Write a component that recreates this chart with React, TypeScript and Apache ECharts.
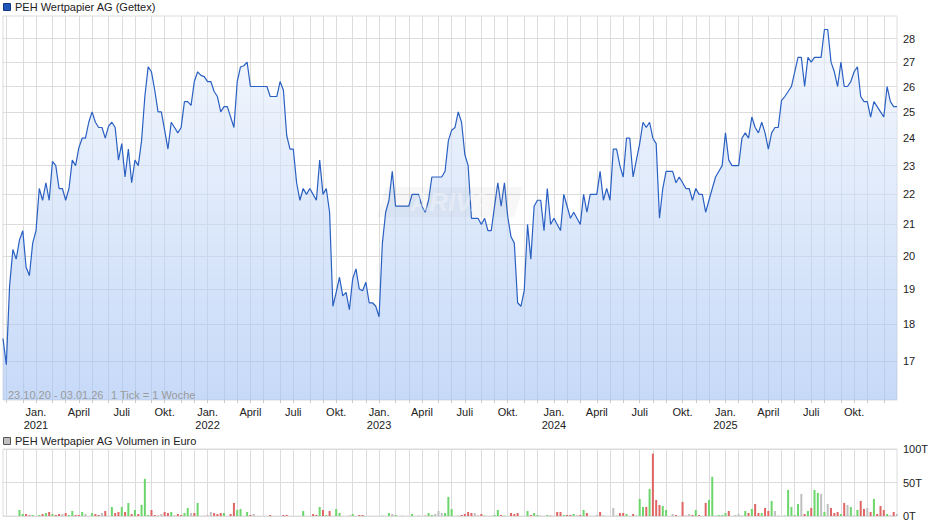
import React, { useEffect, useRef } from "react";
import * as echarts from "echarts";

// weekly data 23.10.20 - 03.01.26 (first point: Friday 23.10.2020)
const START_UTC = Date.UTC(2020, 9, 23);
const DAY = 86400000;
const WEEK = 7 * DAY;

const prices = [
  17.6, 16.9, 19.1, 20.2, 19.9, 20.5, 20.8, 19.65, 19.4, 20.4,
  20.8, 22.2, 21.8, 22.4, 21.8, 23.15, 23.0, 22.2, 22.2, 21.8,
  22.2, 23.2, 23.0, 23.65, 24.0, 24.0, 24.6, 25.0, 24.6, 24.4,
  24.4, 24.0, 24.45, 24.6, 24.4, 23.2, 23.8, 22.6, 23.6, 22.4,
  23.2, 23.0, 23.9, 25.6, 26.8, 26.6, 25.85, 25.0, 25.0, 24.3,
  23.6, 24.6, 24.4, 24.2, 24.4, 25.4, 25.4, 25.25, 26.2, 26.6,
  26.45, 26.4, 26.2, 26.2, 25.8, 25.6, 25.0, 25.2, 25.2, 24.8,
  24.4, 26.2, 26.8, 26.85, 27.0, 26.0, 26.0, 26.0, 26.0, 26.0,
  26.0, 25.6, 25.6, 25.6, 26.2, 25.85, 24.1, 23.6, 23.6, 22.4,
  21.8, 22.2, 22.0, 22.2, 22.0, 21.8, 23.2, 22.0, 22.2, 21.4,
  18.5, 18.9, 19.35, 18.8, 18.9, 18.4, 19.3, 19.6, 19.0, 18.95,
  19.2, 18.6, 18.6, 18.5, 18.2, 20.4, 21.4, 21.8, 22.8, 21.6,
  21.6, 21.6, 21.6, 21.6, 22.0, 22.0, 22.0, 21.6, 21.4, 21.8,
  22.6, 22.6, 22.6, 22.6, 22.8, 23.9, 24.3, 24.4, 25.0, 24.6,
  23.4, 23.0, 21.2, 21.2, 21.2, 21.0, 21.2, 20.8, 20.8, 21.6,
  22.4, 21.6, 22.4, 21.25, 20.6, 20.4, 18.6, 18.5, 18.95, 21.0,
  19.9, 21.6, 21.8, 21.8, 20.8, 22.2, 21.0, 21.2, 21.0, 20.8,
  22.0, 21.6, 21.2, 21.4, 21.2, 21.0, 22.0, 21.4, 22.0, 22.0,
  22.0, 22.8, 21.8, 22.2, 21.8, 23.6, 23.6, 23.0, 22.6, 24.0,
  24.0, 22.6, 23.2, 23.8, 24.6, 24.4, 24.6, 24.0, 23.8, 21.2,
  22.2, 22.8, 22.8, 22.8, 22.4, 22.6, 22.4, 22.2, 22.2, 21.8,
  22.2, 22.0, 22.0, 21.4, 21.8, 22.2, 22.6, 22.8, 23.0, 24.2,
  23.2, 23.0, 23.0, 23.0, 24.0, 24.2, 24.0, 24.8, 24.4, 24.2,
  24.6, 24.2, 23.6, 24.2, 24.4, 24.4, 25.45, 25.6, 25.8, 26.0,
  26.6, 27.2, 27.2, 26.0, 27.2, 27.0, 27.2, 27.2, 27.2, 28.4,
  28.4, 27.0, 26.6, 26.0, 27.0, 26.0, 26.0, 26.2, 26.6, 26.8,
  25.6, 25.4, 25.4, 24.8, 25.4, 25.2, 25.0, 24.8, 26.0, 25.4,
  25.2, 25.2,
];

// volume in thousand euro (T)
const volumes = [
  0, 0, 0, 0, 0, 9, 3, 3, 1, 1.5,
  0, 1.5, 3, 4.5, 6, 3, 1.5, 3, 3, 4.5,
  1.5, 7.5, 1.5, 1.5, 6, 3, 0, 4.5, 3, 1.5,
  4.5, 7.5, 0, 13.5, 4.5, 6, 13.5, 6, 19.5, 3,
  9, 3, 16.5, 55.5, 1.5, 9, 1.5, 0.5, 3, 6,
  4.5, 6, 0.5, 3, 1.5, 4.5, 12, 4.5, 4.5, 19.5,
  0, 0.5, 0.5, 6, 4.5, 3, 4.5, 4.5, 0, 3,
  19.5, 9, 10.5, 0, 6, 1.5, 3, 0, 0, 0,
  0, 1.5, 0, 0, 0, 1.5, 1.5, 0, 0, 0,
  0, 7.5, 0, 0, 3, 1.5, 13.5, 9, 1.5, 7.5,
  0, 10.5, 4.5, 0, 0, 0.5, 3, 0, 1.5, 1.5,
  0, 0, 0, 0, 0, 0.5, 0, 4.5, 3, 1.5,
  0, 0.5, 0, 0, 3, 0, 0.5, 0, 0.5, 4.5,
  1.5, 3, 7.5, 4.5, 4.5, 28.5, 10.5, 0, 0.5, 1.5,
  3, 6, 4.5, 4.5, 0.5, 3, 0.5, 0, 0, 1.5,
  9, 1.5, 0.5, 0, 4.5, 3, 4.5, 0, 0, 7.5,
  1.5, 4.5, 1.5, 0.5, 0, 1.5, 0.5, 0, 6, 6,
  1.5, 1.5, 1.5, 3, 0.5, 1.5, 9, 4.5, 0, 0,
  1.5, 6, 0.5, 0, 0, 12, 0.5, 4.5, 4.5, 3,
  0, 3, 0.5, 25.5, 13.5, 13.5, 40.5, 93, 24, 16.5,
  15, 9, 0, 3, 1.5, 0, 21, 0.5, 3, 1.5,
  9, 1.5, 0, 19.5, 24, 58.5, 0.5, 1.5, 1.5, 4.5,
  7.5, 0, 1.5, 3, 0.5, 7.5, 4.5, 10.5, 18, 4.5,
  4.5, 12, 7.5, 22.5, 7.5, 0.5, 0, 0.5, 39, 13.5,
  1.5, 18, 33, 3, 7.5, 12, 39, 34.5, 33, 6,
  18, 12, 4.5, 6, 3, 19.5, 16.5, 13.5, 0.5, 9,
  22.5, 10.5, 12, 6, 25.5, 3, 15, 9, 3, 0.5,
  6, 3,
];

// u = up (green), d = down (red), n = unchanged (grey)
const volumeDir = [
  "nnnnnuuddu", "nudududdnd", "uuddunnudd", "ndnuddudud",
  "uduuudddnd", "duddduundu", "nndndddund", "duunudnnnn",
  "ndnnnddnnn", "nunnddudud", "nuunndundd", "nnnnnununu",
  "nnnnunnndu", "unnnuuunud", "dddnddunnu", "udundddnnu",
  "duunnudndd", "uddudduddn", "nduunnuddu", "nduuududdd",
  "uunndnddnd", "udnduuuuuu", "dnnnuududd", "uddunnuuuu",
  "uunduduunu", "ndddudnuuu", "ddndudddud", "dn",
].join("").split("");

const priceTicks = [17, 18, 19, 20, 21, 22, 23, 24, 25, 26, 27, 28];
const volumeTicks = [0, 50, 100];
const monthNames = ["Jan.", "Feb.", "März", "April", "Mai", "Juni", "Juli", "Aug.", "Sep.", "Okt.", "Nov.", "Dez."];
const labelMonths = [0, 3, 6, 9];

const pad = (n: number) => (n < 10 ? "0" + n : "" + n);
const categories = prices.map((_, i) => {
  const d = new Date(START_UTC + i * WEEK);
  return `${pad(d.getUTCDate())}.${pad(d.getUTCMonth() + 1)}.${String(d.getUTCFullYear()).slice(2)}`;
});
// a week (Mon..Sun) starts a new month when its Sunday lies in another month than the previous week's Sunday
const weekEnd = (i: number) => new Date(START_UTC + i * WEEK + 2 * DAY);
const lastIndex = prices.length - 1;
const monthStart = prices.map((_, i) => {
  if (i === 0 || i === lastIndex) return false;
  const a = weekEnd(i), b = weekEnd(i - 1);
  return a.getUTCMonth() !== b.getUTCMonth();
});
const labelShow = prices.map((_, i) => monthStart[i] && labelMonths.indexOf(weekEnd(i).getUTCMonth()) >= 0);
const labelText = prices.map((_, i) => {
  if (!labelShow[i]) return "";
  const d = weekEnd(i);
  const m = d.getUTCMonth();
  return m === 0 ? `${monthNames[0]}\n${d.getUTCFullYear()}` : monthNames[m];
});

const FONT = '"Liberation Sans", Arial, Helvetica, sans-serif';
const GRID_COLOR = "#dcdcdc";
const UP = "#6cd66c";
const DOWN = "#e06666";
const FLAT = "#bfbfbf";

export default function App() {
  const ref = useRef<HTMLDivElement>(null);
  useEffect(() => {
    if (!ref.current) return;
    const chart = echarts.init(ref.current, undefined, { renderer: "svg" });
    const option: any = {
      animation: false,
      backgroundColor: "#ffffff",
      textStyle: { fontFamily: FONT },
      grid: [
        { left: 3, top: 16, width: 894, height: 384, show: true, borderColor: GRID_COLOR, borderWidth: 1, backgroundColor: "#fff" },
        { left: 3, top: 449, width: 894, height: 67, show: true, borderColor: GRID_COLOR, borderWidth: 1, backgroundColor: "#fff" },
      ],
      xAxis: [
        {
          type: "category",
          gridIndex: 0,
          data: categories,
          boundaryGap: false,
          axisLine: { show: false },
          axisTick: { show: true, interval: (i: number) => monthStart[i], length: 3, lineStyle: { color: "#cccccc" } },
          axisLabel: {
            interval: (i: number) => labelShow[i],
            formatter: (_v: string, i: number) => labelText[i],
            color: "#222",
            fontSize: 11,
            lineHeight: 13,
            margin: 5,
            fontFamily: FONT,
          },
          splitLine: { show: true, interval: (i: number) => monthStart[i], lineStyle: { color: GRID_COLOR, width: 1 } },
        },
        {
          type: "category",
          gridIndex: 1,
          data: categories,
          boundaryGap: false,
          axisLine: { show: false },
          axisTick: { show: false },
          axisLabel: { show: false },
          splitLine: { show: true, interval: (i: number) => monthStart[i], lineStyle: { color: GRID_COLOR, width: 1 } },
        },
      ],
      yAxis: [
        {
          type: "log",
          logBase: 10,
          gridIndex: 0,
          position: "right",
          min: 16,
          max: 29,
          axisLine: { show: false },
          axisTick: { show: false, customValues: priceTicks },
          axisLabel: { customValues: priceTicks, color: "#222", fontSize: 11, margin: 6, fontFamily: FONT, formatter: (v: number) => String(Math.round(v)) },
          splitLine: { show: true, lineStyle: { color: GRID_COLOR, width: 1 } },
        },
        {
          type: "value",
          gridIndex: 1,
          position: "right",
          min: volumeTicks[0],
          max: volumeTicks[2],
          interval: volumeTicks[1] - volumeTicks[0],
          axisLine: { show: false },
          axisTick: { show: false },
          axisLabel: { color: "#222", fontSize: 11, margin: 6, fontFamily: FONT, formatter: (v: number) => `${v}T` },
          splitLine: { show: true, lineStyle: { color: GRID_COLOR, width: 1 } },
        },
      ],
      series: [
        {
          type: "line",
          xAxisIndex: 0,
          yAxisIndex: 0,
          data: prices,
          symbol: "none",
          showSymbol: false,
          lineStyle: { color: "#2a60c2", width: 1.2 },
          areaStyle: {
            origin: "start",
            color: new echarts.graphic.LinearGradient(0, 16, 0, 400, [
              { offset: 0, color: "rgba(240,245,253,0.85)" },
              { offset: 1, color: "rgba(160,192,243,0.85)" },
            ], true),
          },
          z: 3,
        },
        {
          type: "bar",
          xAxisIndex: 1,
          yAxisIndex: 1,
          barWidth: 2,
          data: volumes.map((v, i) => ({
            value: v,
            itemStyle: { color: volumeDir[i] === "u" ? UP : volumeDir[i] === "d" ? DOWN : FLAT },
          })),
        },
      ],
      graphic: [
        { type: "polygon", shape: { points: [[386, 187], [523, 187], [514, 217], [377, 217]] }, style: { fill: "rgba(120,120,120,0.06)" }, z: 100, silent: true },
        { type: "text", x: 450, y: 202, style: { text: "ARIVA", font: `italic bold 26px ${FONT}`, fill: "rgba(255,255,255,0.35)", align: "center", verticalAlign: "middle" }, z: 101, silent: true },
        { type: "rect", shape: { x: 3.5, y: 3.5, width: 7, height: 7 }, style: { fill: "#1f56b8", stroke: "#103a86", lineWidth: 1 }, z: 100 },
        { type: "text", x: 15, y: 7, style: { text: "PEH Wertpapier AG (Gettex)", font: `11px ${FONT}`, fill: "#222", verticalAlign: "middle" }, z: 100 },
        { type: "rect", shape: { x: 3.5, y: 437.5, width: 7, height: 7 }, style: { fill: "#c0c0c0", stroke: "#555", lineWidth: 1 }, z: 100 },
        { type: "text", x: 15, y: 441, style: { text: "PEH Wertpapier AG Volumen in Euro", font: `11px ${FONT}`, fill: "#222", verticalAlign: "middle" }, z: 100 },
        { type: "text", x: 8, y: 395, style: { text: "23.10.20 - 03.01.26", font: `11px ${FONT}`, fill: "#9a9a9a", verticalAlign: "middle" }, z: 100 },
        { type: "text", x: 111, y: 395, style: { text: "1 Tick = 1 Woche", font: `11px ${FONT}`, fill: "#9a9a9a", verticalAlign: "middle" }, z: 100 },
      ],
    };
    chart.setOption(option);
    return () => chart.dispose();
  }, []);
  return <div ref={ref} style={{ position: "fixed", left: 0, top: 0, width: 940, height: 526 }} />;
}
